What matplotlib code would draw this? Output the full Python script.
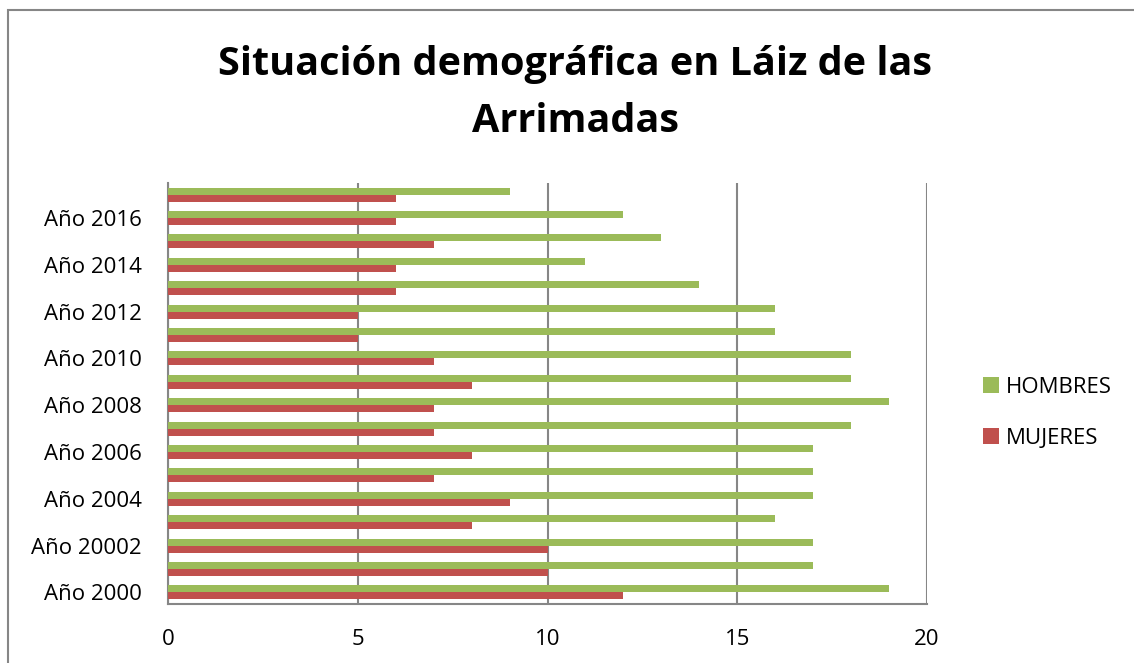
import numpy as np
import matplotlib
matplotlib.use("Agg")
import matplotlib.pyplot as plt
from matplotlib.patches import Rectangle

# === datos ===
years = ["Año 2000", "Año 2001", "Año 20002", "Año 2003", "Año 2004", "Año 2005",
         "Año 2006", "Año 2007", "Año 2008", "Año 2009", "Año 2010", "Año 2011",
         "Año 2012", "Año 2013", "Año 2014", "Año 2015", "Año 2016", "Año 2017"]
hombres = [19, 17, 17, 16, 17, 17, 17, 18, 19, 18, 18, 16, 16, 14, 11, 13, 12, 9]
mujeres = [12, 10, 10, 8, 9, 7, 8, 7, 7, 8, 7, 5, 5, 6, 6, 7, 6, 6]
xticks = [0, 5, 10, 15, 20]

col_h = "#9bbb59"
col_m = "#c0504d"
grid_col = "#868686"
font = ["Open Sans", "DejaVu Sans"]

fig = plt.figure(figsize=(11.34, 6.63), dpi=100)
W, H = 1134, 663
ax = fig.add_axes([168 / W, 1 - 604 / H, (927 - 168) / W, (604 - 183) / H])

y = np.arange(len(years))
bh = 0.3
ax.barh(y + bh / 2, hombres, height=bh, color=col_h, label="HOMBRES", zorder=3)
ax.barh(y - bh / 2, mujeres, height=bh, color=col_m, label="MUJERES", zorder=3)

ax.set_xlim(0, 20)
ax.set_ylim(-0.5, len(years) - 0.5)
ax.set_xticks(xticks)
ax.set_xticklabels([str(v) for v in xticks], fontsize=16, fontfamily=font)
ax.set_yticks(y[::2])
ax.set_yticklabels(years[::2], fontsize=16, fontfamily=font)
ax.tick_params(axis="both", length=0)
ax.tick_params(axis="x", pad=18)
ax.tick_params(axis="y", pad=19)
ax.grid(axis="x", color=grid_col, linewidth=1.5, zorder=0)
for s in ["top", "right"]:
    ax.spines[s].set_visible(False)
for s in ["left", "bottom"]:
    ax.spines[s].set_color(grid_col)
    ax.spines[s].set_linewidth(1.5)

leg = fig.legend(loc="center left", bbox_to_anchor=(963 / W, 1 - 413 / H),
                 frameon=False, prop={"family": font, "size": 16},
                 handlelength=0.7, handleheight=0.7, handletextpad=0.35,
                 labelspacing=1.35)

fig.text(575 / W, 1 - 93 / H, "Situación demográfica en Láiz de las\nArrimadas",
         ha="center", va="center", fontsize=28.5, fontweight="bold",
         fontfamily=font, linespacing=1.6)

fig.patches.append(Rectangle((8 / W, -0.05), 1.1, 1 - 10 / H + 0.05,
                             transform=fig.transFigure, fill=False,
                             edgecolor=grid_col, linewidth=1.5))

fig.savefig("out.png", dpi=100)
